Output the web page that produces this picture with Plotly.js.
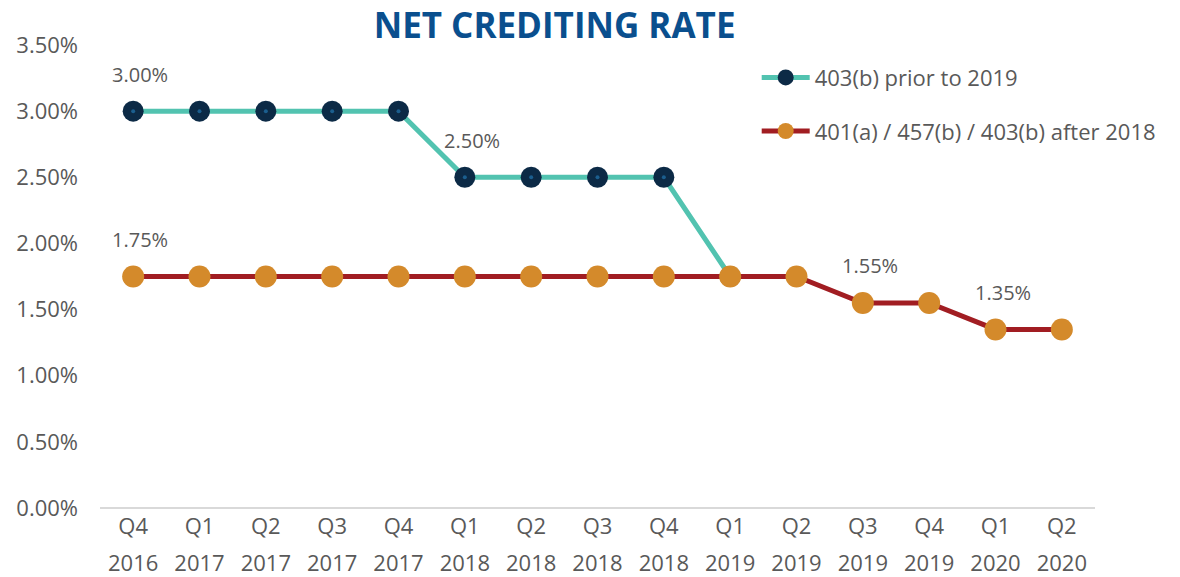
<!DOCTYPE html>
<html>
<head>
<meta charset="utf-8">
<script src="https://cdn.plot.ly/plotly-3.0.1.min.js"></script>
<style>
  html, body { margin: 0; padding: 0; background: #fff; }
  #plot { width: 1180px; height: 577px; }
</style>
</head>
<body>
<div id="plot"></div>
<script>
const quarters = ['Q4', 'Q1', 'Q2', 'Q3', 'Q4', 'Q1', 'Q2', 'Q3', 'Q4', 'Q1', 'Q2', 'Q3', 'Q4', 'Q1', 'Q2'];
const years = ['2016', '2017', '2017', '2017', '2017', '2018', '2018', '2018', '2018', '2019', '2019', '2019', '2019', '2020', '2020'];
const rate403Prior = [3.00, 3.00, 3.00, 3.00, 3.00, 2.50, 2.50, 2.50, 2.50, 1.75];
const rateAfter2018 = [1.75, 1.75, 1.75, 1.75, 1.75, 1.75, 1.75, 1.75, 1.75, 1.75, 1.75, 1.55, 1.55, 1.35, 1.35];
const labelIdx = [0, 5, 0, 11, 13];
const labelVal = [3.00, 2.50, 1.75, 1.55, 1.35];
const yTicks = [0, 0.5, 1, 1.5, 2, 2.5, 3, 3.5];

const idx = quarters.map((_, i) => i);
const idxPrior = rate403Prior.map((_, i) => i);

const gray = '#595959';
const font = '"Open Sans", Lato, sans-serif';

const teal = {
  x: idxPrior, y: rate403Prior,
  type: 'scatter', mode: 'lines+markers',
  name: '403(b) prior to 2019',
  legendgroup: 'a',
  line: { color: '#52c3b0', width: 5 },
  marker: { color: '#0c2a46', size: 21 },
  cliponaxis: false
};
const tealDot = {
  x: idxPrior, y: rate403Prior,
  type: 'scatter', mode: 'markers',
  showlegend: false, hoverinfo: 'skip',
  marker: { color: '#1b5e8e', size: 4 },
  cliponaxis: false
};
const red = {
  x: idx, y: rateAfter2018,
  type: 'scatter', mode: 'lines+markers',
  name: '401(a) / 457(b) / 403(b) after 2018',
  legendgroup: 'b',
  line: { color: '#a11d22', width: 5 },
  marker: { color: '#d48a2b', size: 22 },
  cliponaxis: false
};
// invisible carrier so the year axis gets drawn
const yearCarrier = {
  x: idx, y: rateAfter2018, xaxis: 'x2',
  type: 'scatter', mode: 'markers',
  showlegend: false, hoverinfo: 'skip',
  marker: { opacity: 0 }
};

const annotations = labelIdx.map((xi, k) => ({
  x: xi, y: labelVal[k], xref: 'x', yref: 'y',
  text: labelVal[k].toFixed(2) + '%',
  showarrow: false, yshift: 37, xshift: 7,
  font: { family: font, size: 20, color: gray }
}));

const layout = {
  width: 1180, height: 577,
  margin: { l: 100, r: 85, t: 45, b: 69 },
  paper_bgcolor: '#fff', plot_bgcolor: '#fff',
  font: { family: font, color: gray },
  title: {
    text: '<b>NET CREDITING RATE</b>',
    font: { family: '"Open Sans", sans-serif', size: 35, color: '#0a4f8e', weight: 800 },
    x: 0.47, xanchor: 'center',
    y: 0.955, yanchor: 'middle', yref: 'container'
  },
  xaxis: {
    type: 'linear', range: [-0.5, 14.5],
    tickmode: 'array', tickvals: idx, ticktext: quarters,
    showgrid: false, zeroline: false, showline: false,
    ticks: '', ticklabelstandoff: 3,
    tickfont: { family: font, size: 22, color: gray }
  },
  xaxis2: {
    type: 'linear', range: [-0.5, 14.5], overlaying: 'x', anchor: 'y', side: 'bottom',
    tickmode: 'array', tickvals: idx, ticktext: years,
    showgrid: false, zeroline: false, showline: false,
    ticks: '', ticklabelstandoff: 40,
    tickfont: { family: font, size: 22, color: gray }
  },
  yaxis: {
    range: [0, 3.5],
    tickmode: 'array', tickvals: yTicks,
    ticktext: yTicks.map(v => v.toFixed(2) + '%'),
    showgrid: false, zeroline: true, zerolinecolor: '#d9d9d9', zerolinewidth: 2,
    showline: false, ticks: '', ticklabelstandoff: 21,
    tickfont: { family: font, size: 22, color: gray }
  },
  legend: {
    x: 0.66, xanchor: 'left', y: 0.975, yanchor: 'top',
    bgcolor: 'rgba(0,0,0,0)',
    font: { family: font, size: 22, color: gray },
    traceorder: 'grouped', tracegroupgap: 22,
    itemwidth: 48
  },
  annotations: annotations,
  showlegend: true
};

Plotly.newPlot('plot', [teal, tealDot, red, yearCarrier], layout, { displayModeBar: false, staticPlot: true });
</script>
</body>
</html>
